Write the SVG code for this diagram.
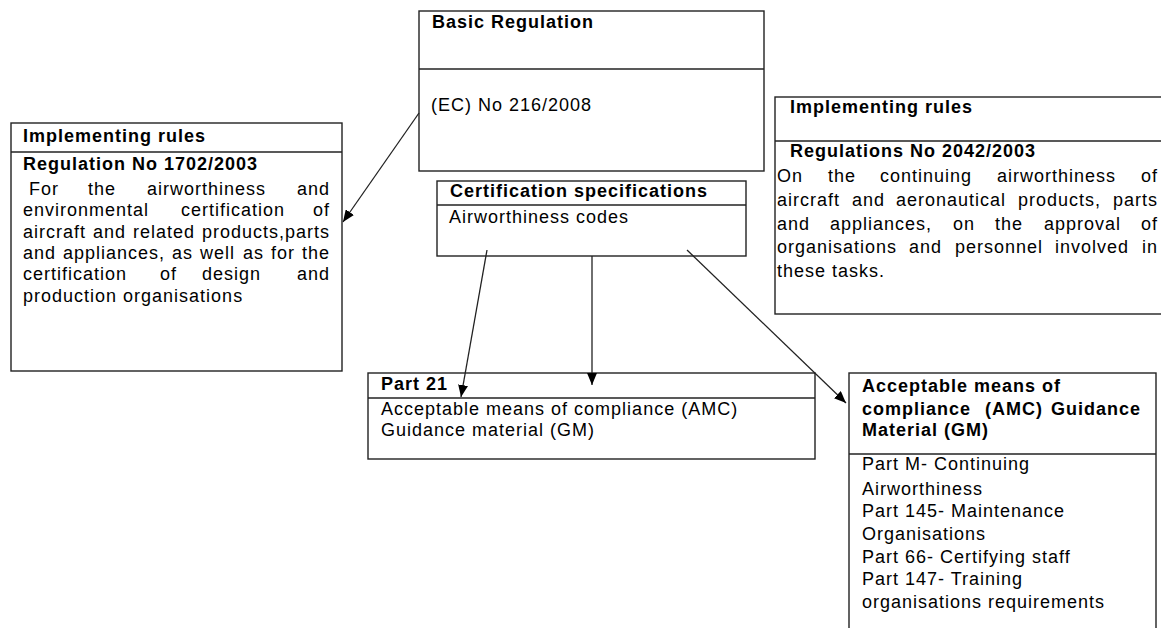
<svg xmlns="http://www.w3.org/2000/svg" width="1161" height="628" viewBox="0 0 1161 628">
<style>
.box{fill:#fff;stroke:#222;stroke-width:1.4}
.div{stroke:#222;stroke-width:1.4}
.t{font-family:"Liberation Sans",Arial,sans-serif;font-size:18px;letter-spacing:1px;fill:#000}
.b{font-family:"Liberation Sans",Arial,sans-serif;font-size:18px;letter-spacing:1px;font-weight:bold;fill:#000}
.c{stroke:#222;stroke-width:1.3;fill:none;marker-end:url(#ah)}
</style>
<defs>
<marker id="ah" markerUnits="userSpaceOnUse" markerWidth="12" markerHeight="10" viewBox="0 0 12 10" refX="12" refY="5" orient="auto">
<path d="M0,0 L12,5 L0,10 Z" fill="#000"/>
</marker>
</defs>
<rect width="1161" height="628" fill="#fff"/>

<g id="basic-regulation">
<rect class="box" x="419" y="11" width="345" height="160"/>
<line class="div" x1="419" y1="69" x2="764" y2="69"/>
<text class="b" x="432" y="28">Basic Regulation</text>
<text class="t" x="431" y="111">(EC) No 216/2008</text>
</g>

<g id="implementing-rules-left">
<rect class="box" x="11" y="123" width="331" height="248"/>
<line class="div" x1="11" y1="152" x2="342" y2="152"/>
<text class="b" x="23" y="142">Implementing rules</text>
<text class="b" x="23" y="170">Regulation No 1702/2003</text>
<text class="t" y="195"><tspan x="29">For</tspan><tspan x="88">the</tspan><tspan x="147">airworthiness</tspan><tspan x="297">and</tspan></text>
<text class="t" y="216"><tspan x="23">environmental</tspan><tspan x="181">certification</tspan><tspan x="313">of</tspan></text>
<text class="t" y="238"><tspan x="23">aircraft</tspan><tspan x="93">and</tspan><tspan x="133">related</tspan><tspan x="202">products,parts</tspan></text>
<text class="t" y="259"><tspan x="23">and</tspan><tspan x="63">appliances,</tspan><tspan x="172">as</tspan><tspan x="200">well</tspan><tspan x="243">as</tspan><tspan x="271">for</tspan><tspan x="302">the</tspan></text>
<text class="t" y="280"><tspan x="23">certification</tspan><tspan x="160">of</tspan><tspan x="202">design</tspan><tspan x="297">and</tspan></text>
<text class="t" x="23" y="302">production organisations</text>
</g>

<g id="implementing-rules-right">
<rect class="box" x="775" y="97" width="400" height="217"/>
<line class="div" x1="775" y1="141" x2="1175" y2="141"/>
<text class="b" x="790" y="113">Implementing rules</text>
<text class="b" x="790" y="157">Regulations No 2042/2003</text>
<text class="t" y="182"><tspan x="777">On</tspan><tspan x="828">the</tspan><tspan x="880">continuing</tspan><tspan x="997">airworthiness</tspan><tspan x="1141">of</tspan></text>
<text class="t" y="206"><tspan x="777">aircraft</tspan><tspan x="852">and</tspan><tspan x="896">aeronautical</tspan><tspan x="1018">products,</tspan><tspan x="1113">parts</tspan></text>
<text class="t" y="230"><tspan x="777">and</tspan><tspan x="830">appliances,</tspan><tspan x="953">on</tspan><tspan x="995">the</tspan><tspan x="1044">approval</tspan><tspan x="1141">of</tspan></text>
<text class="t" y="253"><tspan x="777">organisations</tspan><tspan x="909">and</tspan><tspan x="955">personnel</tspan><tspan x="1055">involved</tspan><tspan x="1142">in</tspan></text>
<text class="t" x="777" y="277">these tasks.</text>
</g>

<g id="certification-specifications">
<rect class="box" x="437" y="181" width="309" height="75"/>
<line class="div" x1="437" y1="205" x2="746" y2="205"/>
<text class="b" x="450" y="197">Certification specifications</text>
<text class="t" x="449" y="223">Airworthiness codes</text>
</g>

<g id="part-21">
<rect class="box" x="368" y="373" width="447" height="86"/>
<line class="div" x1="368" y1="398" x2="815" y2="398"/>
<text class="b" x="381" y="390">Part 21</text>
<text class="t" x="381" y="415">Acceptable means of compliance (AMC)</text>
<text class="t" x="381" y="436">Guidance material (GM)</text>
</g>

<g id="amc-gm">
<rect class="box" x="849" y="373" width="307" height="270"/>
<line class="div" x1="849" y1="454" x2="1156" y2="454"/>
<text class="b" x="862" y="392">Acceptable means of</text>
<text class="b" y="415"><tspan x="862">compliance</tspan><tspan x="985">(AMC)</tspan><tspan x="1051">Guidance</tspan></text>
<text class="b" x="862" y="436">Material (GM)</text>
<text class="t" x="862" y="470">Part M- Continuing</text>
<text class="t" x="862" y="495">Airworthiness</text>
<text class="t" x="862" y="517">Part 145- Maintenance</text>
<text class="t" x="862" y="540">Organisations</text>
<text class="t" x="862" y="563">Part 66- Certifying staff</text>
<text class="t" x="862" y="585">Part 147- Training</text>
<text class="t" x="862" y="608">organisations requirements</text>
</g>

<g id="connectors">
<line class="c" x1="419" y1="113" x2="343" y2="222"/>
<line class="c" x1="487" y1="250" x2="461" y2="397"/>
<line class="c" x1="592" y1="256" x2="592" y2="385"/>
<line class="c" x1="687" y1="250" x2="846" y2="403"/>
</g>
</svg>
